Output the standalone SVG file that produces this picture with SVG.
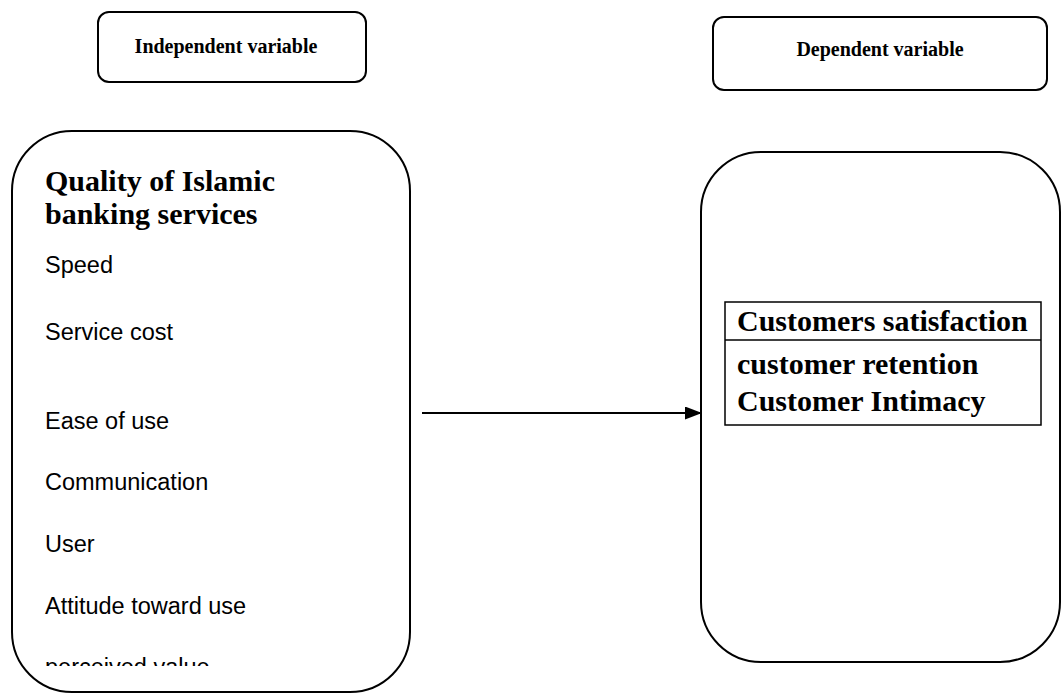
<svg xmlns="http://www.w3.org/2000/svg" width="1062" height="693" viewBox="0 0 1062 693">
<style>
.box{fill:#fff;stroke:#000;stroke-width:2}
.hdr{font-family:"Liberation Serif","Times New Roman",serif;font-weight:bold;fill:#000}
.item{font-family:"Liberation Sans",Arial,sans-serif;font-size:23.5px;fill:#000}
.big{font-family:"Liberation Serif","Times New Roman",serif;font-weight:bold;font-size:30px;fill:#000}
</style>
<defs>
<marker id="ah" markerWidth="17" markerHeight="13" refX="16" refY="6.5" orient="auto" markerUnits="userSpaceOnUse" viewBox="0 0 17 13">
<path d="M0,0 L17,6.5 L0,13 z" fill="#000"/>
</marker>
<clipPath id="clipL"><rect x="0" y="0" width="1062" height="666"/></clipPath>
</defs>
<rect width="1062" height="693" fill="#fff"/>
<g id="independent-label">
<rect class="box" x="98" y="12" width="268" height="70" rx="11"/>
<text class="hdr" x="226" y="53" font-size="20" text-anchor="middle">Independent variable</text>
</g>
<g id="dependent-label">
<rect class="box" x="713" y="17" width="334" height="73" rx="11"/>
<text class="hdr" x="880" y="56" font-size="20" text-anchor="middle">Dependent variable</text>
</g>
<g id="independent-node">
<rect class="box" x="12" y="131" width="398" height="561" rx="60"/>
<text class="big" x="45" y="191">Quality of Islamic</text>
<text class="big" x="45" y="224">banking services</text>
<text class="item" x="45" y="273">Speed</text>
<text class="item" x="45" y="340">Service cost</text>
<text class="item" x="45" y="429">Ease of use</text>
<text class="item" x="45" y="490">Communication</text>
<text class="item" x="45" y="552">User</text>
<text class="item" x="45" y="614">Attitude toward use</text>
<text class="item" x="45" y="675" clip-path="url(#clipL)">perceived value</text>
</g>
<g id="dependent-node">
<rect class="box" x="701" y="152" width="359" height="510" rx="60"/>
<rect x="725" y="302" width="316" height="123" fill="none" stroke="#000" stroke-width="1.5"/>
<line x1="725" y1="340" x2="1041" y2="340" stroke="#000" stroke-width="1.5"/>
<text class="big" x="737" y="331">Customers satisfaction</text>
<text class="big" x="737" y="374">customer retention</text>
<text class="big" x="737" y="411">Customer Intimacy</text>
</g>
<g id="connectors">
<line x1="422" y1="413" x2="701" y2="413" stroke="#000" stroke-width="2" marker-end="url(#ah)"/>
</g>
</svg>
